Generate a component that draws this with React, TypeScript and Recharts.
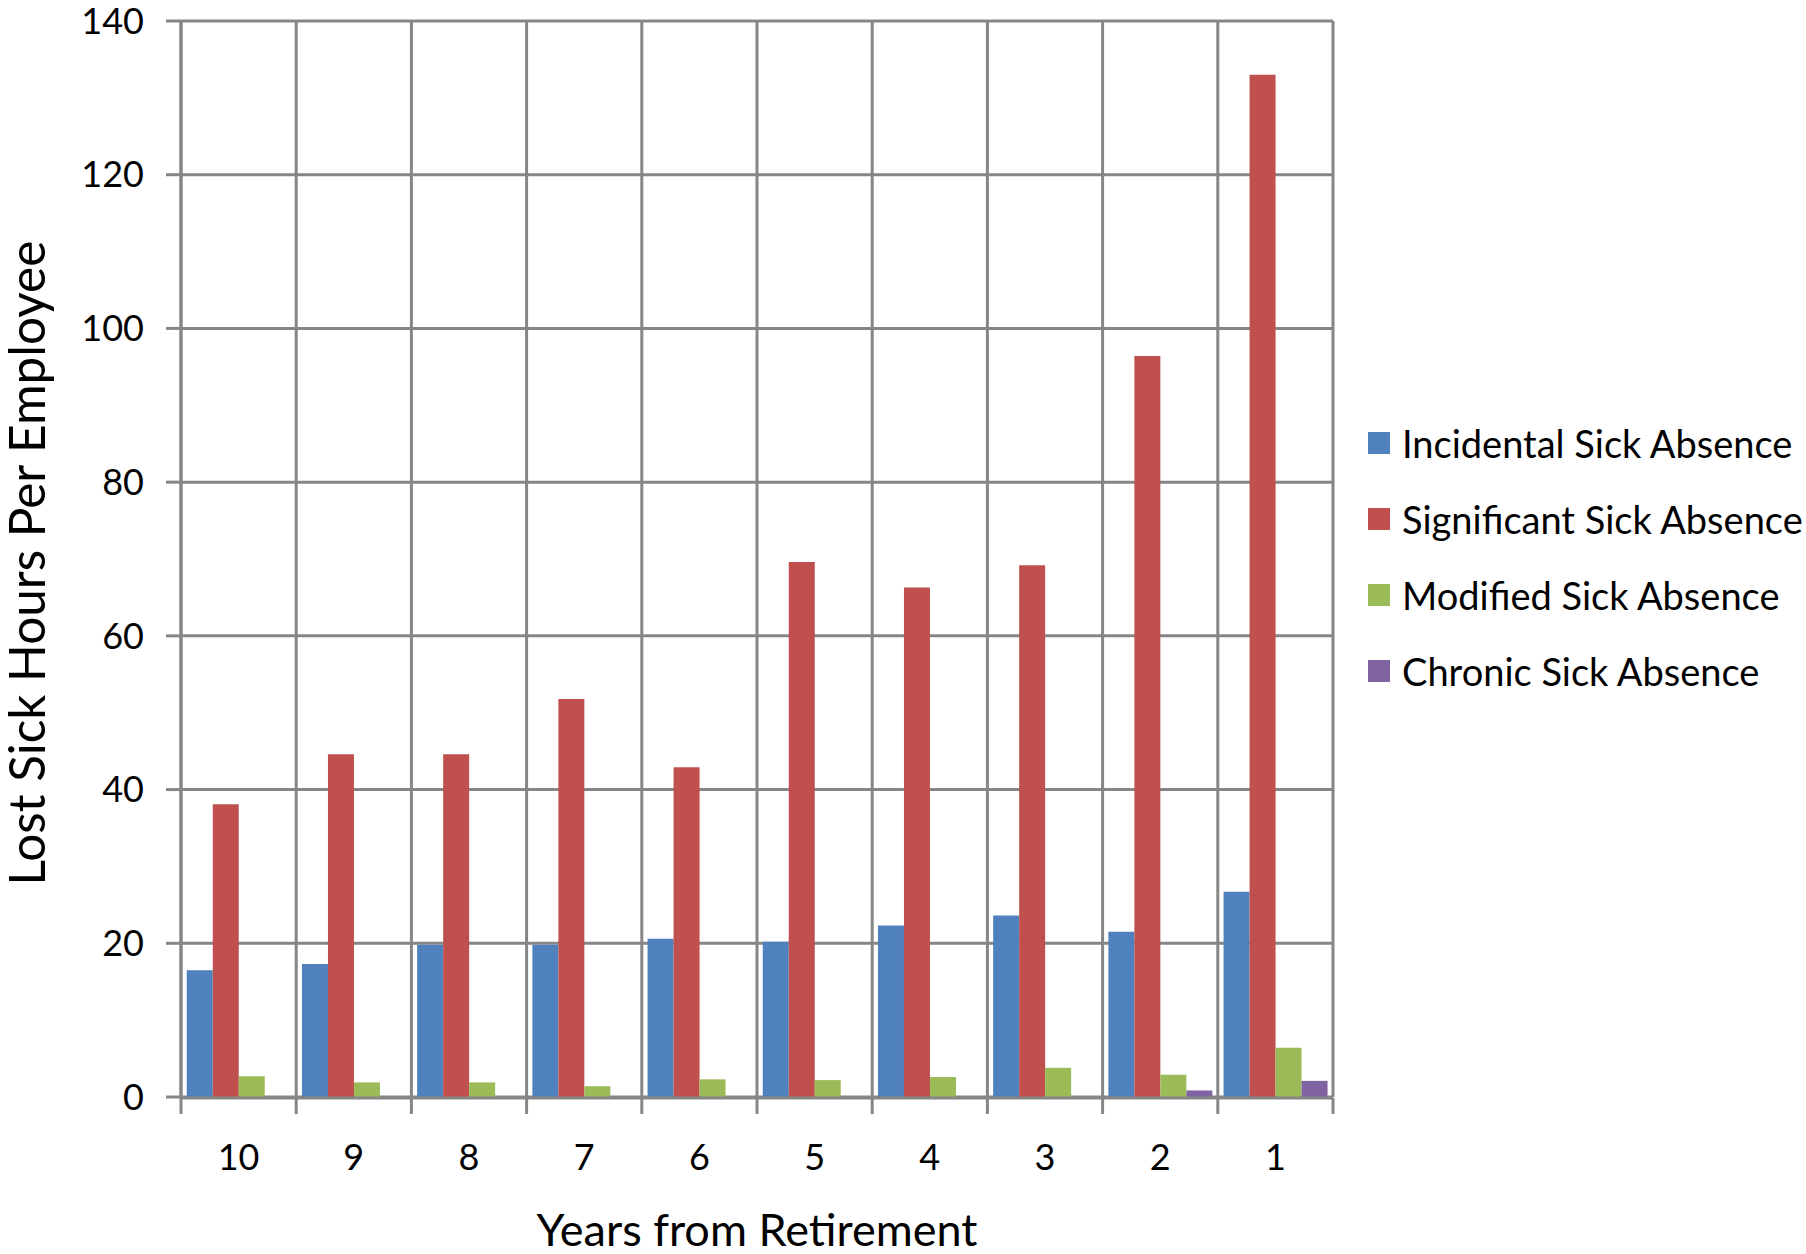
import React from 'react';
import {
  BarChart,
  Bar,
  XAxis,
  YAxis,
  CartesianGrid,
  Legend
} from 'recharts';

const years = ['10', '9', '8', '7', '6', '5', '4', '3', '2', '1'];
const incidental = [16.5, 17.3, 19.8, 19.8, 20.6, 20.2, 22.3, 23.6, 21.5, 26.7];
const significant = [38.1, 44.6, 44.6, 51.8, 42.9, 69.6, 66.3, 69.2, 96.4, 133.0];
const modified = [2.7, 1.9, 1.9, 1.4, 2.3, 2.2, 2.6, 3.8, 2.9, 6.4];
const chronic = [0, 0, 0, 0, 0, 0, 0, 0, 0.85, 2.1];
const yTicks = [0, 20, 40, 60, 80, 100, 120, 140];
const boundaryTicks = [0, 1, 2, 3, 4, 5, 6, 7, 8, 9, 10];

const seriesNames = [
  'Incidental Sick Absence',
  'Significant Sick Absence',
  'Modified Sick Absence',
  'Chronic Sick Absence'
];
const seriesColors = ['#4F81BD', '#C0504D', '#9BBB59', '#8064A2'];

// slot = category index on a 0..10 number line, used only for the boundary grid/ticks
const data = years.map((year, i) => ({
  year,
  slot: i + 0.5,
  incidental: incidental[i],
  significant: significant[i],
  modified: modified[i],
  chronic: chronic[i]
}));

const FONT = 'Lato, "Open Sans", sans-serif';
const GRID = '#868686';

function LegendBox() {
  return (
    <div style={{ fontFamily: FONT, fontSize: 38, color: '#000' }}>
      {seriesNames.map((name, i) => (
        <div key={name} style={{ height: 76, display: 'flex', alignItems: 'center', whiteSpace: 'nowrap' }}>
          <span style={{ width: 22, height: 22, background: seriesColors[i], marginRight: 12, flexShrink: 0 }} />
          <span>{name}</span>
        </div>
      ))}
    </div>
  );
}

export default function App() {
  return (
    <div style={{ position: 'absolute', left: 0, top: 0, width: 1806, height: 1254, overflow: 'hidden', background: '#fff' }}>
      <BarChart
        width={1806}
        height={1254}
        data={data}
        margin={{ top: 21, right: 473, bottom: 155, left: 0 }}
        barCategoryGap="5%"
        barGap={0}
      >
        <CartesianGrid xAxisId="b" stroke={GRID} strokeWidth={3} />
        <XAxis
          xAxisId="a"
          dataKey="year"
          height={1}
          axisLine={false}
          tickLine={false}
          tickSize={0}
          tickMargin={47}
          interval={0}
          tick={{ fill: '#000', fontSize: 36, fontFamily: FONT }}
          label={{
            value: 'Years from Retirement',
            position: 'insideTop',
            offset: 117,
            fill: '#000',
            fontSize: 45,
            fontFamily: FONT
          }}
        />
        <XAxis
          xAxisId="b"
          dataKey="slot"
          type="number"
          domain={[0, 10]}
          ticks={boundaryTicks}
          interval={0}
          allowDataOverflow
          height={1}
          tick={() => <g />}
          tickSize={16}
          axisLine={{ stroke: GRID, strokeWidth: 3 }}
          tickLine={{ stroke: GRID, strokeWidth: 3 }}
        />
        <YAxis
          width={181}
          domain={[0, 140]}
          ticks={yTicks}
          interval={0}
          tickSize={15}
          tickMargin={22}
          axisLine={{ stroke: GRID, strokeWidth: 3 }}
          tickLine={{ stroke: GRID, strokeWidth: 3 }}
          tick={{ fill: '#000', fontSize: 36, fontFamily: FONT }}
          label={{
            value: 'Lost Sick Hours Per Employee',
            content: ({ viewBox }: any) => {
              const cx = viewBox.x + 26;
              const cy = viewBox.y + viewBox.height / 2 + 4;
              return (
                <text
                  x={cx}
                  y={cy}
                  transform={`rotate(-90, ${cx}, ${cy})`}
                  textAnchor="middle"
                  dominantBaseline="central"
                  fill="#000"
                  fontSize={49.5}
                  fontFamily={FONT}
                >
                  Lost Sick Hours Per Employee
                </text>
              );
            }
          }}
        />
        <Legend
          layout="vertical"
          align="center"
          verticalAlign="middle"
          content={() => <LegendBox />}
          wrapperStyle={{ left: 1368, top: 405, width: 460 }}
        />
        <Bar xAxisId="a" dataKey="incidental" name={seriesNames[0]} fill={seriesColors[0]} isAnimationActive={false} />
        <Bar xAxisId="a" dataKey="significant" name={seriesNames[1]} fill={seriesColors[1]} isAnimationActive={false} />
        <Bar xAxisId="a" dataKey="modified" name={seriesNames[2]} fill={seriesColors[2]} isAnimationActive={false} />
        <Bar xAxisId="a" dataKey="chronic" name={seriesNames[3]} fill={seriesColors[3]} isAnimationActive={false} />
      </BarChart>
    </div>
  );
}
